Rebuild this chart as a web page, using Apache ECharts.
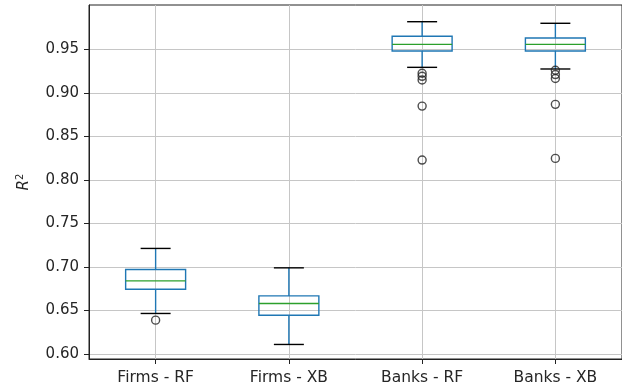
<!DOCTYPE html>
<html>
<head>
<meta charset="utf-8">
<script src="https://cdn.jsdelivr.net/npm/echarts@6/dist/echarts.min.js"></script>
<style>
  html, body { margin: 0; padding: 0; background: #fff; }
  #chart { width: 622px; height: 391px; }
</style>
</head>
<body>
<div id="chart"></div>
<script>
// Box statistics of R² per model / sample
const categories = ['Firms - RF', 'Firms - XB', 'Banks - RF', 'Banks - XB'];
const whiskerLow  = [0.6466, 0.6110, 0.9293, 0.9274];
const q1          = [0.6745, 0.6446, 0.9480, 0.9480];
const median      = [0.6840, 0.6580, 0.9557, 0.9557];
const q3          = [0.6971, 0.6668, 0.9650, 0.9630];
const whiskerHigh = [0.7213, 0.6990, 0.9817, 0.9799];
const outliers = [
  [0.6389],
  [],
  [0.9225, 0.9190, 0.9147, 0.8848, 0.8228],
  [0.9260, 0.9210, 0.9165, 0.8868, 0.8247]
];
const yTicks = [0.60, 0.65, 0.70, 0.75, 0.80, 0.85, 0.90, 0.95];

const FONT = 'DejaVu Sans';
const TEXT = '#262626';
const BLUE = '#1f77b4';
const GREEN = '#2ca02c';
const GRID = '#c6c6c6';

const positions = categories.map((_, i) => i + 1);
const boxData = positions.map((p, i) =>
  [p, whiskerLow[i], q1[i], median[i], q3[i], whiskerHigh[i]]);
const outlierData = [];
outliers.forEach((list, i) => list.forEach(v => outlierData.push([positions[i], v])));

function renderBox(params, api) {
  const x = api.value(0);
  const pLow = api.coord([x, api.value(1)]);
  const pQ1 = api.coord([x, api.value(2)]);
  const pMed = api.coord([x, api.value(3)]);
  const pQ3 = api.coord([x, api.value(4)]);
  const pHigh = api.coord([x, api.value(5)]);
  const half = api.size([1, 0])[0] * 0.225;
  const capHalf = half / 2;
  const cx = pMed[0];
  const lw = 1.4;
  const line = (x1, y1, x2, y2, color) => ({
    type: 'line',
    shape: { x1, y1, x2, y2 },
    style: { stroke: color, lineWidth: lw, fill: null }
  });
  return {
    type: 'group',
    children: [
      line(cx, pQ1[1], cx, pLow[1], BLUE),
      line(cx, pQ3[1], cx, pHigh[1], BLUE),
      line(cx - capHalf, pLow[1], cx + capHalf, pLow[1], '#000'),
      line(cx - capHalf, pHigh[1], cx + capHalf, pHigh[1], '#000'),
      {
        type: 'rect',
        shape: { x: cx - half, y: pQ3[1], width: 2 * half, height: pQ1[1] - pQ3[1] },
        style: { stroke: BLUE, lineWidth: lw, fill: null }
      },
      line(cx - half, pMed[1], cx + half, pMed[1], GREEN)
    ]
  };
}

const chart = echarts.init(document.getElementById('chart'), null, { renderer: 'canvas' });
chart.setOption({
  animation: false,
  backgroundColor: '#fff',
  grid: {
    left: 89, top: 5, width: 544, height: 354,
    show: true, borderColor: '#222', borderWidth: 1, backgroundColor: 'transparent'
  },
  xAxis: {
    type: 'value',
    min: 0.5, max: 4.5,
    axisLine: { show: true, lineStyle: { color: '#222', width: 1 } },
    axisTick: { show: true, customValues: positions, length: 5, lineStyle: { color: '#222' } },
    axisLabel: {
      customValues: positions,
      formatter: v => categories[Math.round(v) - 1],
      color: TEXT, fontFamily: FONT, fontSize: 15.5, margin: 11
    },
    splitLine: { show: true, lineStyle: { color: GRID, width: 1 } }
  },
  yAxis: {
    type: 'value',
    min: 0.5943, max: 1.0009,
    name: '{r|R}{s|2}',
    nameLocation: 'middle',
    nameGap: 56,
    nameTextStyle: {
      color: TEXT, fontFamily: FONT,
      rich: {
        r: { fontFamily: FONT, fontStyle: 'italic', fontSize: 15, color: TEXT },
        s: { fontFamily: FONT, fontSize: 10, color: TEXT, verticalAlign: 'top', padding: [0, 0, 8, 0] }
      }
    },
    axisLine: { show: true, lineStyle: { color: '#222', width: 1 } },
    axisTick: { show: true, customValues: yTicks, length: 5, lineStyle: { color: '#222' } },
    axisLabel: {
      customValues: yTicks,
      formatter: v => v.toFixed(2),
      color: TEXT, fontFamily: FONT, fontSize: 15, margin: 10
    },
    splitLine: { show: true, lineStyle: { color: GRID, width: 1 } }
  },
  series: [
    {
      type: 'custom',
      renderItem: renderBox,
      data: boxData,
      encode: { x: 0, y: [1, 2, 3, 4, 5] },
      clip: false,
      z: 3
    },
    {
      type: 'scatter',
      data: outlierData,
      symbol: 'circle',
      symbolSize: 8,
      itemStyle: { color: 'rgba(0,0,0,0)', borderColor: '#222', borderWidth: 1.4 },
      z: 4
    }
  ]
});
</script>
</body>
</html>
